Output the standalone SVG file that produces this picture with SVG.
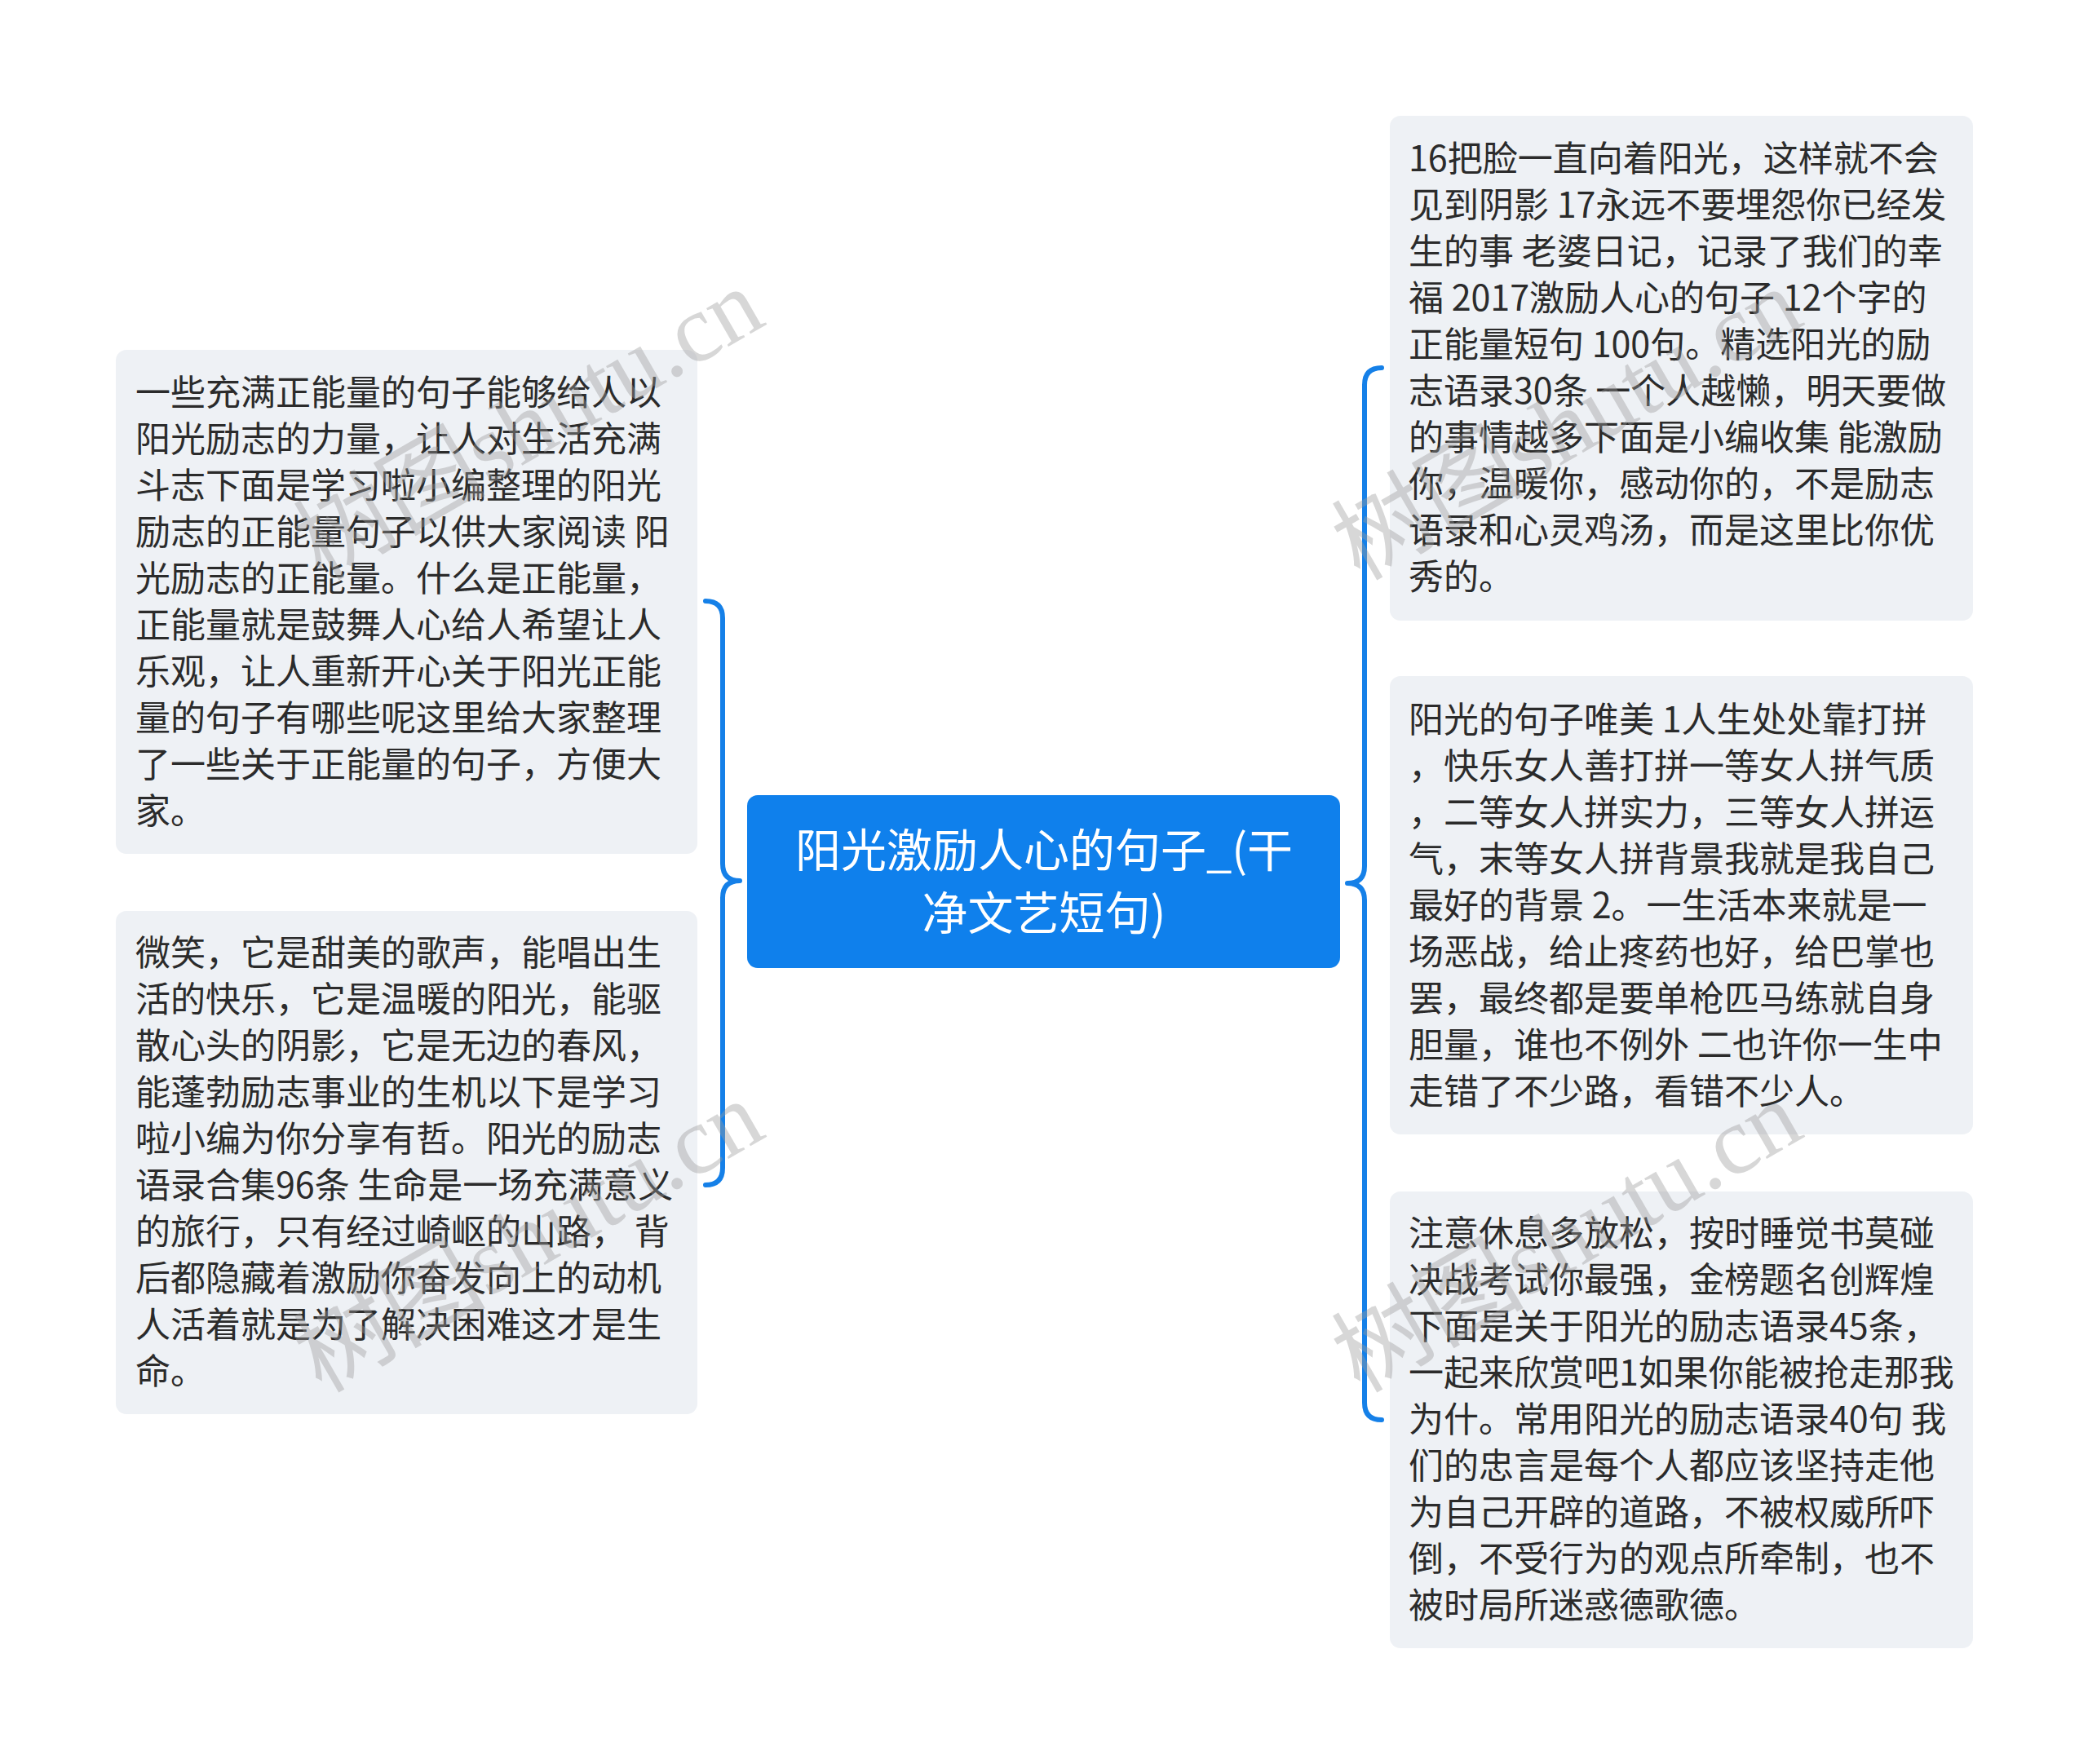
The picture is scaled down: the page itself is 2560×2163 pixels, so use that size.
<svg xmlns="http://www.w3.org/2000/svg" width="2560" height="2163" viewBox="0 0 2560 2163">
<style>
.node{fill:#eef1f5}
.t{font-family:"Noto Sans CJK SC","Noto Sans",sans-serif;font-size:43px;fill:#2b2b2b}
.title{font-family:"Noto Sans CJK SC","Noto Sans",sans-serif;font-size:56px;fill:#ffffff;text-anchor:middle}
.conn{fill:none;stroke:#1580e8;stroke-width:6;stroke-linecap:round;stroke-linejoin:round}
.wm{font-family:"Liberation Serif","Noto Sans CJK SC",serif;font-size:118px;fill:#9a9a9a;fill-opacity:0.4;text-anchor:middle}
</style>
<rect width="2560" height="2163" fill="#ffffff"/>
<g id="connectors">
<path class="conn" d="M865,737 Q886,737 886,758 L886,1059 Q886,1080 907,1080 Q886,1080 886,1101 L886,1432 Q886,1453 865,1453"/>
<path class="conn" d="M1694,451 Q1673,451 1673,472 L1673,1062 Q1673,1083 1652,1083 Q1673,1083 1673,1104 L1673,1720 Q1673,1741 1694,1741"/>
</g>
<g id="root">
<rect x="916" y="975" width="727" height="212" rx="13" fill="#0f80ec"/>
<text class="title" x="1280" y="1063">阳光激励人心的句子_(干</text>
<text class="title" x="1280" y="1140">净文艺短句)</text>
</g>
<g id="left1">
<rect class="node" x="142" y="429" width="713" height="618" rx="13"/>
<text class="t" x="166" y="497">一些充满正能量的句子能够给人以</text>
<text class="t" x="166" y="554">阳光励志的力量，让人对生活充满</text>
<text class="t" x="166" y="611">斗志下面是学习啦小编整理的阳光</text>
<text class="t" x="166" y="668">励志的正能量句子以供大家阅读 阳</text>
<text class="t" x="166" y="725">光励志的正能量。什么是正能量，</text>
<text class="t" x="166" y="782">正能量就是鼓舞人心给人希望让人</text>
<text class="t" x="166" y="839">乐观，让人重新开心关于阳光正能</text>
<text class="t" x="166" y="896">量的句子有哪些呢这里给大家整理</text>
<text class="t" x="166" y="953">了一些关于正能量的句子，方便大</text>
<text class="t" x="166" y="1010">家。</text>
</g>
<g id="left2">
<rect class="node" x="142" y="1117" width="713" height="617" rx="13"/>
<text class="t" x="166" y="1184">微笑，它是甜美的歌声，能唱出生</text>
<text class="t" x="166" y="1241">活的快乐，它是温暖的阳光，能驱</text>
<text class="t" x="166" y="1298">散心头的阴影，它是无边的春风，</text>
<text class="t" x="166" y="1355">能蓬勃励志事业的生机以下是学习</text>
<text class="t" x="166" y="1412">啦小编为你分享有哲。阳光的励志</text>
<text class="t" x="166" y="1469">语录合集96条 生命是一场充满意义</text>
<text class="t" x="166" y="1526">的旅行，只有经过崎岖的山路， 背</text>
<text class="t" x="166" y="1583">后都隐藏着激励你奋发向上的动机</text>
<text class="t" x="166" y="1640">人活着就是为了解决困难这才是生</text>
<text class="t" x="166" y="1697">命。</text>
</g>
<g id="right1">
<rect class="node" x="1704" y="142" width="715" height="619" rx="13"/>
<text class="t" x="1727" y="210">16把脸一直向着阳光，这样就不会</text>
<text class="t" x="1727" y="267">见到阴影 17永远不要埋怨你已经发</text>
<text class="t" x="1727" y="324">生的事 老婆日记，记录了我们的幸</text>
<text class="t" x="1727" y="381">福 2017激励人心的句子 12个字的</text>
<text class="t" x="1727" y="438">正能量短句 100句。精选阳光的励</text>
<text class="t" x="1727" y="495">志语录30条 一个人越懒，明天要做</text>
<text class="t" x="1727" y="552">的事情越多下面是小编收集 能激励</text>
<text class="t" x="1727" y="609">你，温暖你，感动你的，不是励志</text>
<text class="t" x="1727" y="666">语录和心灵鸡汤，而是这里比你优</text>
<text class="t" x="1727" y="723">秀的。</text>
</g>
<g id="right2">
<rect class="node" x="1704" y="829" width="715" height="562" rx="13"/>
<text class="t" x="1727" y="898">阳光的句子唯美 1人生处处靠打拼</text>
<text class="t" x="1727" y="955">，快乐女人善打拼一等女人拼气质</text>
<text class="t" x="1727" y="1012">，二等女人拼实力，三等女人拼运</text>
<text class="t" x="1727" y="1069">气，末等女人拼背景我就是我自己</text>
<text class="t" x="1727" y="1126">最好的背景 2。一生活本来就是一</text>
<text class="t" x="1727" y="1183">场恶战，给止疼药也好，给巴掌也</text>
<text class="t" x="1727" y="1240">罢，最终都是要单枪匹马练就自身</text>
<text class="t" x="1727" y="1297">胆量，谁也不例外 二也许你一生中</text>
<text class="t" x="1727" y="1354">走错了不少路，看错不少人。</text>
</g>
<g id="right3">
<rect class="node" x="1704" y="1461" width="715" height="560" rx="13"/>
<text class="t" x="1727" y="1528">注意休息多放松，按时睡觉书莫碰</text>
<text class="t" x="1727" y="1585">决战考试你最强，金榜题名创辉煌</text>
<text class="t" x="1727" y="1642">下面是关于阳光的励志语录45条，</text>
<text class="t" x="1727" y="1699">一起来欣赏吧1如果你能被抢走那我</text>
<text class="t" x="1727" y="1756">为什。常用阳光的励志语录40句 我</text>
<text class="t" x="1727" y="1813">们的忠言是每个人都应该坚持走他</text>
<text class="t" x="1727" y="1870">为自己开辟的道路，不被权威所吓</text>
<text class="t" x="1727" y="1927">倒，不受行为的观点所牵制，也不</text>
<text class="t" x="1727" y="1984">被时局所迷惑德歌德。</text>
</g>
<g id="watermarks">
<text class="wm" x="649" y="560" transform="rotate(-30 649 522)">树图shutu.cn</text>
<text class="wm" x="649" y="1556" transform="rotate(-30 649 1518)">树图shutu.cn</text>
<text class="wm" x="1922" y="560" transform="rotate(-30 1922 522)">树图shutu.cn</text>
<text class="wm" x="1922" y="1556" transform="rotate(-30 1922 1518)">树图shutu.cn</text>
</g>
</svg>
